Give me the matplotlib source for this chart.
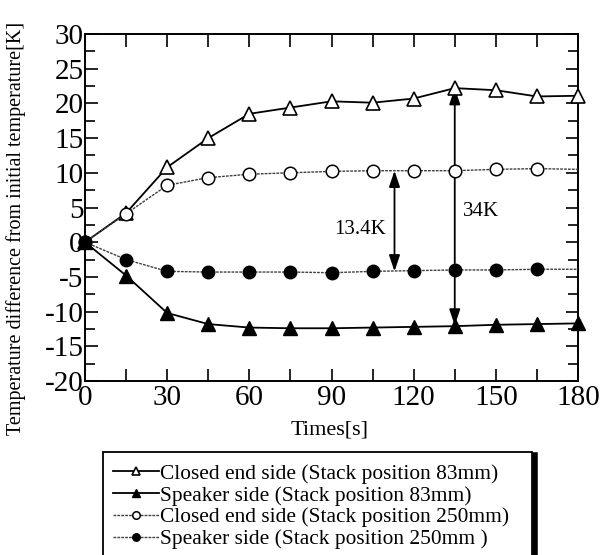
import matplotlib
matplotlib.use("Agg")
import matplotlib.pyplot as plt
from matplotlib.patches import Rectangle
from matplotlib.lines import Line2D

plt.rcParams['font.family'] = ['Liberation Serif', 'DejaVu Serif']
plt.rcParams['axes.unicode_minus'] = False

# ---- data ----
times = [0, 15, 30, 45, 60, 75, 90, 105, 120, 135, 150, 165, 180]
closed_83 = [0, 4.2, 10.8, 15.0, 18.5, 19.4, 20.3, 20.1, 20.7, 22.2, 21.9, 21.0, 21.1]
speaker_83 = [0, -4.8, -10.2, -11.8, -12.3, -12.4, -12.4, -12.3, -12.2, -12.1, -11.9, -11.8, -11.7]
closed_250 = [0, 4.1, 8.2, 9.3, 9.8, 10.0, 10.2, 10.3, 10.3, 10.3, 10.5, 10.6, 10.5]
speaker_250 = [0, -2.5, -4.2, -4.3, -4.3, -4.3, -4.4, -4.2, -4.1, -4.0, -4.0, -3.9, -3.9]

series_labels = ["Closed end side (Stack position 83mm)",
                 "Speaker side (Stack position 83mm)",
                 "Closed end side (Stack position 250mm)",
                 "Speaker side (Stack position 250mm )"]

arrow_t = [113, 135]
arrow_top = [10.3, 22.2]
arrow_bottom = [-4.2, -12.0]
arrow_labels = ["13.4K", "34K"]
arrow_label_pos = [(110, 1.8, 'right'), (138, 4.4, 'left')]

xticks = [0, 30, 60, 90, 120, 150, 180]
yticks = [-20, -15, -10, -5, 0, 5, 10, 15, 20, 25, 30]

W, H = 601, 555
fig = plt.figure(figsize=(W / 100, H / 100), dpi=100)
ax = fig.add_axes([85 / W, 1 - 381 / H, (578 - 85) / W, (381 - 34) / H])

ax.plot(times, closed_83, color='black', lw=1.3, marker='^', markersize=10.5,
        markerfacecolor='white', markeredgecolor='black', markeredgewidth=1.2,
        clip_on=False, zorder=4, label=series_labels[0])
ax.plot(times, speaker_83, color='black', lw=1.3, marker='^', markersize=10.5,
        markerfacecolor='black', markeredgecolor='black',
        clip_on=False, zorder=4, label=series_labels[1])
ax.plot(times, closed_250, color='0.25', lw=1.0, linestyle=(0, (2, 0.8)), marker='o',
        markersize=9, markerfacecolor='white', markeredgecolor='black', markeredgewidth=1.1,
        markevery=list(range(len(times) - 1)), clip_on=False, zorder=4, label=series_labels[2])
ax.plot(times, speaker_250, color='0.25', lw=1.0, linestyle=(0, (2, 0.8)), marker='o',
        markersize=9, markerfacecolor='black', markeredgecolor='black',
        markevery=list(range(len(times) - 1)), clip_on=False, zorder=4, label=series_labels[3])

for t, top, bot in zip(arrow_t, arrow_top, arrow_bottom):
    ax.annotate('', xy=(t, top), xytext=(t, bot),
                arrowprops=dict(arrowstyle='<|-|>,head_length=0.65,head_width=0.22',
                                color='black', lw=1.3, shrinkA=0, shrinkB=0,
                                mutation_scale=15), zorder=3)
for lab, (x, y, ha) in zip(arrow_labels, arrow_label_pos):
    ax.text(x, y, lab, ha=ha, va='center', fontsize=15)

ax.set_xlim(0, 180)
ax.set_ylim(-20, 30)
ax.set_xticks(xticks)
ax.set_yticks(yticks)
ax.set_xticks(range(0, 181, 15), minor=True)
ax.set_yticks([v / 2 for v in range(-40, 61, 5)], minor=True)
ax.tick_params(which='both', direction='in', top=True, right=True, width=1.2)
ax.tick_params(which='major', length=9, labelsize=21)
ax.tick_params(axis='y', which='major', pad=1)
ax.tick_params(axis='x', which='major', pad=3)
ax.tick_params(which='minor', length=7)
ax.tick_params(axis='x', which='minor', length=9)
for s in ax.spines.values():
    s.set_linewidth(1.4)

ax.set_xlabel("Times[s]", fontsize=16, va='center')
ax.xaxis.set_label_coords((330 - 85) / (578 - 85), -(430 - 381) / (381 - 34))
ax.set_ylabel("Temperature difference from initial temperature[K]", fontsize=14.5,
              va='center')
ax.yaxis.set_label_coords(-(85 - 16) / (578 - 85), (381 - 228) / (381 - 34))

# legend (frame drawn separately, continues past the bottom edge)
handles = ax.get_lines()
leg = fig.legend(handles=handles, labels=series_labels, loc='upper left',
                 bbox_to_anchor=(113 / W, 1 - 464 / H), borderaxespad=0,
                 frameon=False, fontsize=15.4, handlelength=2.15, handletextpad=0.05,
                 labelspacing=0.08, markerscale=0.6, borderpad=0)
fig.patches.append(Rectangle((103 / W, -0.05), (532 - 103) / W, 0.05 + (1 - 452 / H),
                             transform=fig.transFigure, fill=False, edgecolor='black',
                             lw=1.3, figure=fig))
fig.lines.append(Line2D([534.5 / W, 534.5 / W], [-0.05, 1 - 455 / H],
                        transform=fig.transFigure, color='black', lw=4, figure=fig))

fig.savefig("out.png", dpi=100)
